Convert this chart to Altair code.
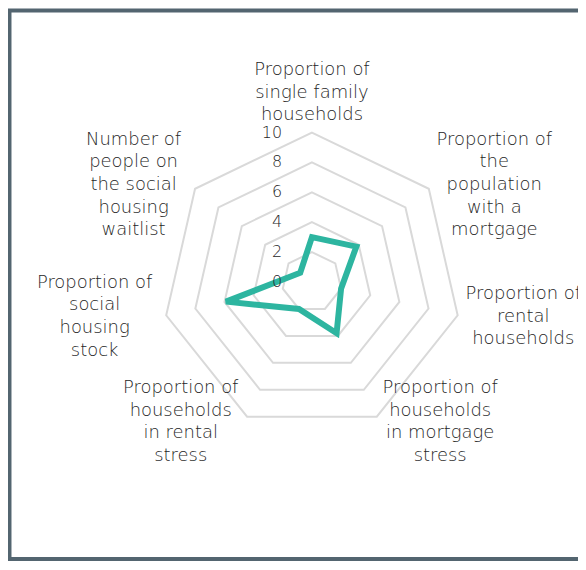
import math
import altair as alt
import pandas as pd

# ---- data ----
categories = [
    "Proportion of single family households",
    "Proportion of the population with a mortgage",
    "Proportion of rental households",
    "Proportion of households in mortgage stress",
    "Proportion of households in rental stress",
    "Proportion of social housing stock",
    "Number of people on the social housing waitlist",
]
label_lines = [
    ["Proportion of", "single family", "households"],
    ["Proportion of", "the", "population", "with a", "mortgage"],
    ["Proportion of", "rental", "households"],
    ["Proportion of", "households", "in mortgage", "stress"],
    ["Proportion of", "households", "in rental", "stress"],
    ["Proportion of", "social", "housing", "stock"],
    ["Number of", "people on", "the social", "housing", "waitlist"],
]
values = [3.0, 3.8, 2.0, 3.8, 2.0, 5.9, 1.0]
tick_values = [0, 2, 4, 6, 8, 10]
grid_levels = [2, 4, 6, 8, 10]

# ---- layout (pixels) ----
W, H = 572, 554
CX, CY = 305, 274          # radar centre inside the view
PX = 15.0                  # pixels per unit (10 units -> 150 px)
LABEL_R = 156 / PX
LINE_H = 22.7
LABEL_SHIFT = [0, 61, 60, 61, -64, -66, -57]
TEAL = "#2db5a0"
GRID = "#d9d9d9"
FRAME = "#536570"
TEXT = "#262626"
FONT = "DejaVu Sans"

n = len(categories)
def ang(i):
    return math.radians(90 - i * 360.0 / n)

grid_rows = []
for lv in grid_levels:
    for i in range(n):
        grid_rows.append({"level": lv, "i": i,
                          "x": lv * math.cos(ang(i)), "y": lv * math.sin(ang(i))})
grid_df = pd.DataFrame(grid_rows)

data_df = pd.DataFrame({
    "category": categories,
    "i": list(range(n)),
    "value": values,
    "x": [v * math.cos(ang(i)) for i, v in enumerate(values)],
    "y": [v * math.sin(ang(i)) for i, v in enumerate(values)],
})

tick_df = pd.DataFrame({"v": tick_values, "t": [str(t) for t in tick_values]})
tick_df["x"] = -30 / PX
tick_df["y"] = tick_df["v"]

lab_rows = []
for i, lines in enumerate(label_lines):
    ax = LABEL_R * math.cos(ang(i))
    ay = LABEL_R * math.sin(ang(i))
    cx = ax + LABEL_SHIFT[i] / PX
    k = len(lines)
    if i == 0:
        cy = ay + (k * LINE_H / 2) / PX
    else:
        cy = ay
    for j, ln in enumerate(lines):
        lab_rows.append({"t": ln, "x": cx,
                         "y": cy - (j - (k - 1) / 2) * LINE_H / PX})
lab_df = pd.DataFrame(lab_rows)

xs = alt.Scale(domain=[-CX / PX, (W - CX) / PX], zero=False, nice=False)
ys = alt.Scale(domain=[-(H - CY) / PX, CY / PX], zero=False, nice=False)
X = lambda: alt.X("x:Q", scale=xs, axis=None)
Y = lambda: alt.Y("y:Q", scale=ys, axis=None)

grid = alt.Chart(grid_df).mark_line(
    color=GRID, strokeWidth=2, interpolate="linear-closed"
).encode(X(), Y(), detail="level:N", order="i:Q")

line = alt.Chart(data_df).mark_line(
    color=TEAL, strokeWidth=6, interpolate="linear-closed", strokeJoin="miter"
).encode(X(), Y(), order="i:Q")

ticks = alt.Chart(tick_df).mark_text(
    align="right", baseline="middle", font=FONT, fontSize=16, color=TEXT, fontWeight=200
).encode(X(), Y(), text="t:N")

labels = alt.Chart(lab_df).mark_text(
    align="center", baseline="middle", font=FONT, fontSize=18, color=TEXT, fontWeight=200
).encode(X(), Y(), text="t:N")

one = pd.DataFrame({"a": [0]})
frame_left = alt.Chart(one).mark_rule(color=FRAME, strokeWidth=4).encode(
    x=alt.value(1.5), y=alt.value(0), y2=alt.value(H))
frame_top = alt.Chart(one).mark_rule(color=FRAME, strokeWidth=4).encode(
    y=alt.value(1.5), x=alt.value(0), x2=alt.value(W))
frame_bottom = alt.Chart(one).mark_rule(color=FRAME, strokeWidth=4).encode(
    y=alt.value(H - 2), x=alt.value(0), x2=alt.value(W))

chart = alt.layer(
    grid, line, ticks, labels, frame_left, frame_top, frame_bottom
).properties(
    width=W, height=H, padding=0, autosize="none", background="white"
).configure_view(stroke=None)

chart.save("out.html", embed_options={"renderer": "svg", "actions": False})
